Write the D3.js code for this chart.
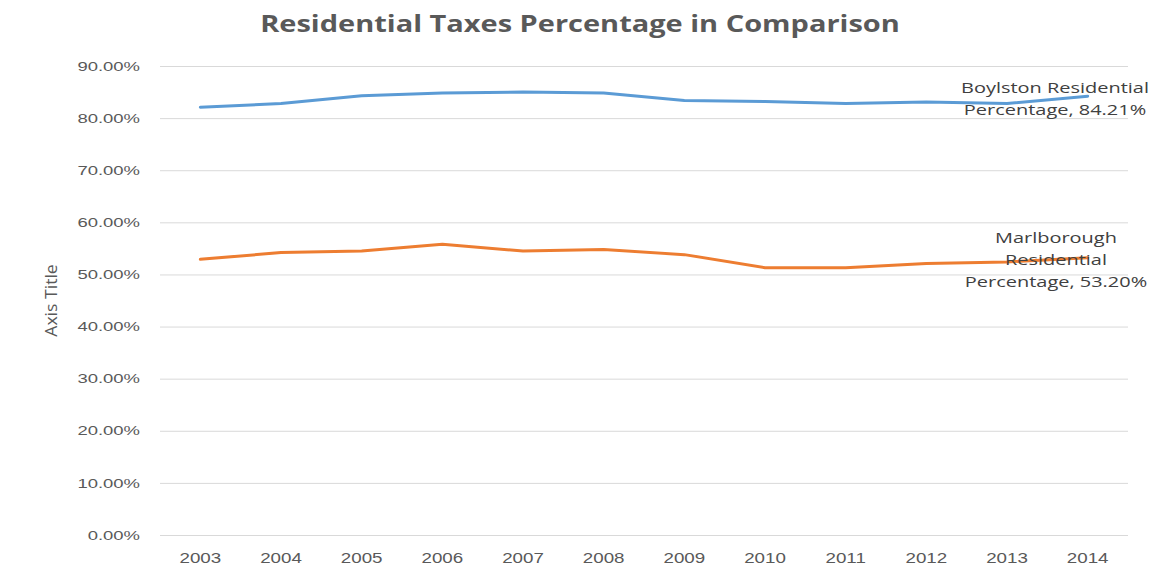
<!DOCTYPE html>
<html>
<head>
<meta charset="utf-8">
<script src="https://cdn.jsdelivr.net/npm/d3@7"></script>
<style>
  body { margin: 0; background: #fff; }
  svg { display: block; font-family: "Open Sans", sans-serif; }
</style>
</head>
<body>
<svg id="chart"></svg>
<script>
// data
const years = ["2003", "2004", "2005", "2006", "2007", "2008", "2009", "2010", "2011", "2012", "2013", "2014"];
const boylston = [82.1, 82.8, 84.3, 84.8, 85.0, 84.8, 83.4, 83.2, 82.8, 83.1, 82.8, 84.21];
const marlborough = [52.9, 54.2, 54.5, 55.8, 54.5, 54.8, 53.8, 51.3, 51.3, 52.1, 52.4, 53.2];
const yTicks = [0, 10, 20, 30, 40, 50, 60, 70, 80, 90];

const width = 1156, height = 580;
const margin = { top: 66, right: 28, bottom: 45, left: 160 };
const svg = d3.select("#chart").attr("width", width).attr("height", height);

const x = d3.scaleBand().domain(years).range([margin.left, width - margin.right]);
const y = d3.scaleLinear().domain([0, 90]).range([height - margin.bottom, margin.top]);

// the original picture is a bit stretched sideways, so widen the text the same way
function stretch(sel, k) {
  sel.each(function () {
    const w = this.getComputedTextLength();
    d3.select(this).attr("textLength", w * k).attr("lengthAdjust", "spacingAndGlyphs");
  });
}

// title
svg.append("text")
  .attr("x", 580).attr("y", 32)
  .attr("text-anchor", "middle")
  .attr("font-size", 23).attr("font-weight", "bold")
  .attr("fill", "#595959")
  .text("Residential Taxes Percentage in Comparison")
  .call(stretch, 1.26);

// gridlines + y labels
const yAxis = d3.axisLeft(y).tickValues(yTicks)
  .tickSize(-(width - margin.left - margin.right))
  .tickPadding(20)
  .tickFormat(d => d.toFixed(2) + "%");
svg.append("g")
  .attr("transform", `translate(${margin.left},0)`)
  .call(yAxis)
  .call(g => g.select(".domain").remove())
  .call(g => g.selectAll("line").attr("stroke", "#d9d9d9"))
  .call(g => g.selectAll("text").attr("fill", "#595959").attr("font-size", 13).call(stretch, 1.42));

// x labels
const xAxis = d3.axisBottom(x).tickSize(0).tickPadding(18);
svg.append("g")
  .attr("transform", `translate(0,${height - margin.bottom})`)
  .call(xAxis)
  .call(g => g.select(".domain").remove())
  .call(g => g.selectAll("text").attr("fill", "#595959").attr("font-size", 14).call(stretch, 1.34));

// axis title
svg.append("text")
  .attr("transform", `translate(57,${(y(0) + y(90)) / 2}) rotate(-90)`)
  .attr("text-anchor", "middle")
  .attr("font-size", 16)
  .attr("fill", "#595959")
  .text("Axis Title")
  .call(stretch, 1.1);

const line = d3.line()
  .x((d, i) => x(years[i]) + x.bandwidth() / 2)
  .y(d => y(d));

svg.append("path").datum(boylston)
  .attr("d", line).attr("fill", "none")
  .attr("stroke", "#5b9bd5").attr("stroke-width", 3)
  .attr("stroke-linecap", "round").attr("stroke-linejoin", "round");
svg.append("path").datum(marlborough)
  .attr("d", line).attr("fill", "none")
  .attr("stroke", "#ed7d31").attr("stroke-width", 3)
  .attr("stroke-linecap", "round").attr("stroke-linejoin", "round");

// data labels on the last point
function dataLabel(lines, cx, firstBaseline) {
  lines.forEach((s, i) => {
    svg.append("text")
      .attr("x", cx).attr("y", firstBaseline + i * 22)
      .attr("text-anchor", "middle")
      .attr("font-size", 15)
      .attr("fill", "#404040")
      .text(s)
      .call(stretch, 1.33);
  });
}
dataLabel(["Boylston Residential", "Percentage, " + boylston[11].toFixed(2) + "%"], 1055, 93);
dataLabel(["Marlborough", "Residential", "Percentage, " + marlborough[11].toFixed(2) + "%"], 1056, 243);
</script>
</body>
</html>
